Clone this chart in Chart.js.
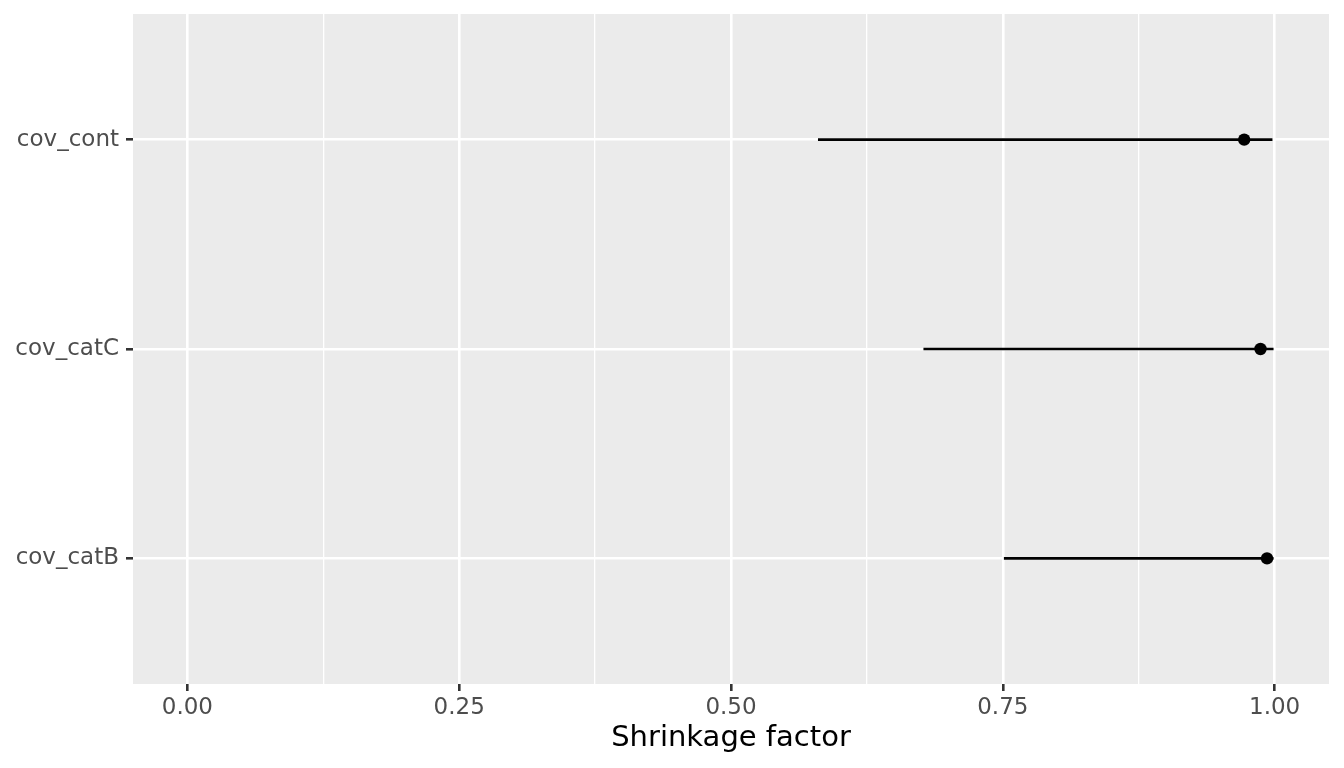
<!DOCTYPE html>
<html>
<head>
<meta charset="utf-8">
<script src="https://cdn.jsdelivr.net/npm/chart.js@4.4.1/dist/chart.umd.min.js"></script>
<style>
  html, body { margin: 0; padding: 0; background: #ffffff; }
</style>
</head>
<body>
<canvas id="chart" width="1344" height="768"></canvas>
<script>
// values
const terms = ["cov_cont", "cov_catC", "cov_catB"];
const estimate = [0.972, 0.987, 0.993];
const lower = [0.580, 0.677, 0.751];
const upper = [0.998, 0.999, 0.999];
const xTicks = [0, 0.125, 0.25, 0.375, 0.5, 0.625, 0.75, 0.875, 1];

const isMajor = (v) => Math.abs(v * 4 - Math.round(v * 4)) < 1e-6;

// one line dataset per interval
const intervalSets = terms.map((t, i) => ({
  type: "line",
  data: [{ x: lower[i], y: i + 1 }, { x: upper[i], y: i + 1 }],
  borderColor: "#000000",
  borderWidth: 2.6,
  pointRadius: 0,
  showLine: true,
}));

const pointSet = {
  type: "scatter",
  data: terms.map((t, i) => ({ x: estimate[i], y: i + 1 })),
  backgroundColor: "#000000",
  borderColor: "#000000",
  borderWidth: 0,
  pointRadius: 6.2,
  pointHoverRadius: 6.2,
};

const panelBg = {
  id: "panelBg",
  beforeDraw(chart) {
    const { ctx, chartArea } = chart;
    ctx.save();
    ctx.fillStyle = "#EBEBEB";
    ctx.fillRect(chartArea.left, chartArea.top, chartArea.right - chartArea.left, chartArea.bottom - chartArea.top);
    ctx.restore();
  },
};

new Chart(document.getElementById("chart").getContext("2d"), {
  type: "scatter",
  data: { datasets: [...intervalSets, pointSet] },
  plugins: [panelBg],
  options: {
    responsive: false,
    animation: false,
    layout: { padding: { top: 14, right: 15, left: 0, bottom: 0 } },
    plugins: { legend: { display: false }, tooltip: { enabled: false } },
    scales: {
      x: {
        type: "linear",
        min: -0.05,
        max: 1.05,
        afterBuildTicks(scale) {
          scale.ticks = xTicks.map((v) => ({ value: v }));
        },
        afterFit(scale) {
          scale.height = 84;
          scale.paddingLeft = 0;
          scale.paddingRight = 0;
        },
        border: { display: false },
        grid: {
          color: "#ffffff",
          lineWidth: (c) => (c.tick && isMajor(c.tick.value) ? 2.6 : 1.3),
          tickColor: (c) => (c.tick && isMajor(c.tick.value) ? "#333333" : "rgba(0,0,0,0)"),
          tickLength: 7,
          tickWidth: 2.6,
        },
        ticks: {
          autoSkip: false,
          maxRotation: 0,
          padding: 3,
          color: "#4D4D4D",
          font: { family: "DejaVu Sans", size: 23 },
          callback: (v) => (isMajor(v) ? v.toFixed(2) : ""),
        },
        title: {
          display: true,
          text: "Shrinkage factor",
          color: "#000000",
          font: { family: "DejaVu Sans", size: 29 },
          padding: { top: 0, bottom: 12 },
        },
      },
      y: {
        type: "linear",
        min: 0.4,
        max: 3.6,
        reverse: true,
        afterBuildTicks(scale) {
          scale.ticks = terms.map((t, i) => ({ value: i + 1 }));
        },
        afterFit(scale) {
          scale.width = 133;
          scale.paddingTop = 0;
          scale.paddingBottom = 0;
        },
        border: { display: false },
        grid: {
          color: "#ffffff",
          lineWidth: 2.6,
          tickColor: "#333333",
          tickLength: 7,
          tickWidth: 2.6,
        },
        ticks: {
          autoSkip: false,
          padding: 7,
          color: "#4D4D4D",
          font: { family: "DejaVu Sans", size: 23 },
          callback: (v) => terms[v - 1],
        },
      },
    },
  },
});
</script>
</body>
</html>
